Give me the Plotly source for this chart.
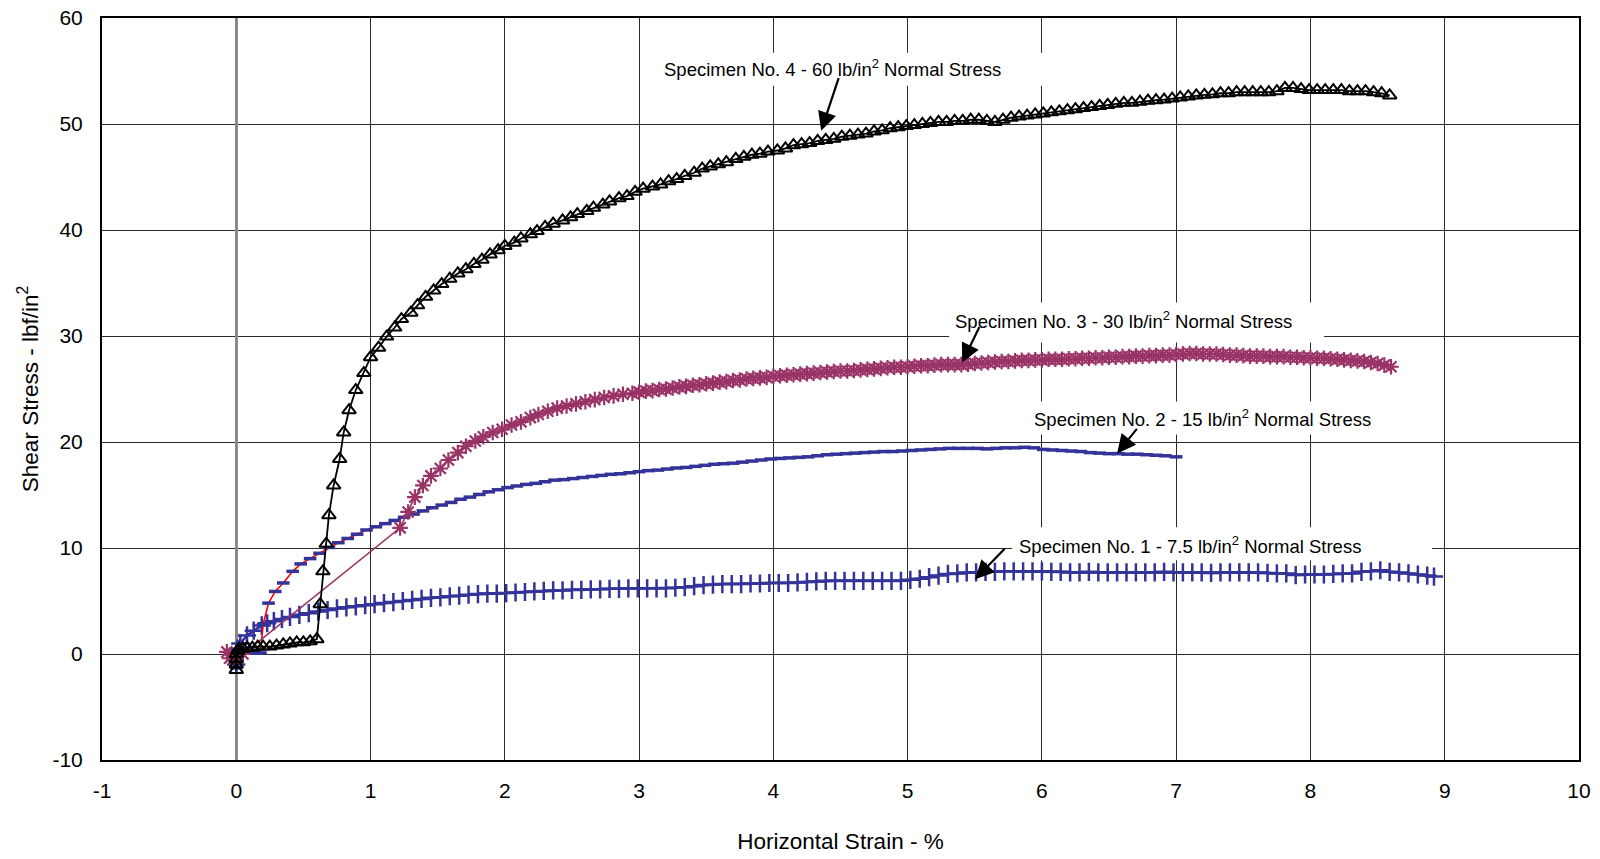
import plotly.graph_objects as go

# ---------------- data ----------------
# Specimen No. 1 - 7.5 lb/in2 normal stress
x1 = [0, 0, 0.01, 0.03, 0.08, 0.13, 0.19, 0.23, 0.28, 0.34, 0.40, 0.47, 0.54, 0.61, 0.68, 0.75, 0.82, 0.89, 0.96,
      1.03, 1.10, 1.17, 1.24, 1.31, 1.38, 1.45, 1.52, 1.59, 1.66, 1.73, 1.80, 1.87, 1.94, 2.01, 2.08, 2.15, 2.22,
      2.29, 2.36, 2.43, 2.50, 2.57, 2.64, 2.71, 2.78, 2.85, 2.92, 2.99, 3.06, 3.13, 3.20, 3.27, 3.34, 3.41, 3.48,
      3.55, 3.62, 3.69, 3.76, 3.83, 3.90, 3.97, 4.04, 4.11, 4.18, 4.25, 4.32, 4.39, 4.46, 4.53, 4.60, 4.67, 4.74,
      4.81, 4.88, 4.95, 5.02, 5.09, 5.16, 5.23, 5.30, 5.37, 5.44, 5.51, 5.58, 5.65, 5.72, 5.79, 5.86, 5.93, 6.00,
      6.07, 6.14, 6.21, 6.28, 6.35, 6.42, 6.49, 6.56, 6.63, 6.70, 6.77, 6.84, 6.91, 6.98, 7.05, 7.12, 7.19, 7.26,
      7.33, 7.40, 7.47, 7.54, 7.61, 7.68, 7.75, 7.82, 7.89, 7.96, 8.03, 8.10, 8.17, 8.24, 8.31, 8.38, 8.45, 8.52,
      8.59, 8.66, 8.73, 8.80, 8.87, 8.92]
y1 = [-1.0, 0.0, 0.5, 1.0, 1.75, 2.2, 2.7, 2.9, 3.1, 3.3, 3.5, 3.7, 3.85, 4.0, 4.15, 4.3, 4.4, 4.5, 4.6,
      4.7, 4.8, 4.9, 5.0, 5.1, 5.2, 5.3, 5.35, 5.45, 5.5, 5.6, 5.65, 5.7, 5.7, 5.75, 5.8, 5.85, 5.9,
      5.95, 6.0, 6.0, 6.05, 6.05, 6.1, 6.1, 6.15, 6.15, 6.2, 6.2, 6.2, 6.2, 6.2, 6.25, 6.3, 6.4, 6.5,
      6.55, 6.6, 6.6, 6.6, 6.65, 6.65, 6.7, 6.7, 6.7, 6.75, 6.8, 6.85, 6.9, 6.9, 6.9, 6.9, 6.9, 6.9,
      6.9, 6.9, 6.9, 7.0, 7.1, 7.25, 7.4, 7.55, 7.6, 7.7, 7.7, 7.75, 7.75, 7.8, 7.8, 7.8, 7.8, 7.8,
      7.75, 7.75, 7.7, 7.7, 7.75, 7.7, 7.7, 7.7, 7.7, 7.7, 7.7, 7.7, 7.75, 7.7, 7.7, 7.7, 7.7, 7.65,
      7.7, 7.7, 7.7, 7.7, 7.7, 7.65, 7.6, 7.6, 7.45, 7.5, 7.5, 7.5, 7.55, 7.6, 7.6, 7.75, 7.8, 7.9,
      7.75, 7.7, 7.6, 7.5, 7.4, 7.3]

# Specimen No. 2 - 15 lb/in2 normal stress
x2 = [0, 0, 0.01, 0.05, 0.10, 0.15, 0.18, 0.20, 0.24, 0.29, 0.35, 0.42, 0.48, 0.55, 0.62, 0.69, 0.76, 0.83,
      0.90, 0.97, 1.04, 1.11, 1.18, 1.25, 1.32, 1.39, 1.46, 1.53, 1.60, 1.67, 1.74, 1.81, 1.88, 1.95, 2.02,
      2.09, 2.16, 2.23, 2.30, 2.37, 2.44, 2.51, 2.58, 2.65, 2.72, 2.79, 2.86, 2.93, 3.00, 3.07, 3.14, 3.21,
      3.28, 3.35, 3.42, 3.49, 3.56, 3.63, 3.70, 3.77, 3.84, 3.91, 3.98, 4.05, 4.12, 4.19, 4.26, 4.33, 4.40,
      4.47, 4.54, 4.61, 4.68, 4.75, 4.82, 4.89, 4.96, 5.03, 5.10, 5.17, 5.24, 5.31, 5.38, 5.45, 5.52, 5.59,
      5.66, 5.73, 5.80, 5.87, 5.94, 6.01, 6.08, 6.15, 6.22, 6.29, 6.36, 6.43, 6.50, 6.57, 6.64, 6.71, 6.78,
      6.85, 6.92, 7.00]
y2 = [-1.3, -0.6, 0.0, 0.1, 0.1, 0.1, 0.1, 2.8, 4.8, 5.9, 6.7, 7.8, 8.5, 9.0, 9.5, 10.05, 10.5, 10.9,
      11.3, 11.7, 12.0, 12.3, 12.6, 12.9, 13.2, 13.5, 13.8, 14.05, 14.3, 14.6, 14.8, 15.05, 15.3, 15.5, 15.7,
      15.85, 16.0, 16.1, 16.25, 16.4, 16.45, 16.55, 16.65, 16.75, 16.85, 16.95, 17.0, 17.1, 17.2, 17.3, 17.35, 17.45,
      17.55, 17.6, 17.7, 17.8, 17.9, 17.95, 18.0, 18.1, 18.2, 18.3, 18.4, 18.45, 18.5, 18.55, 18.6, 18.7, 18.8,
      18.85, 18.9, 18.95, 19.0, 19.05, 19.1, 19.1, 19.15, 19.2, 19.25, 19.3, 19.35, 19.4, 19.4, 19.4, 19.4, 19.35,
      19.4, 19.45, 19.45, 19.5, 19.45, 19.3, 19.25, 19.2, 19.15, 19.1, 19.0, 18.95, 18.9, 18.9, 18.85, 18.85, 18.8,
      18.75, 18.7, 18.6]

# Specimen No. 3 - 30 lb/in2 normal stress
x3 = [-0.07, -0.05, 0.0, 0.05, 1.22, 1.28, 1.33, 1.39, 1.45, 1.52, 1.58, 1.65, 1.71, 1.78, 1.84, 1.91, 1.98,
      2.05, 2.12, 2.19, 2.25, 2.32, 2.39, 2.46, 2.53, 2.60, 2.67, 2.74, 2.81, 2.88,
      2.95, 3.00, 3.05, 3.10, 3.15, 3.20, 3.25, 3.30, 3.35, 3.40, 3.45, 3.50, 3.55, 3.60, 3.65, 3.70, 3.75,
      3.80, 3.85, 3.90, 3.95, 4.00, 4.05, 4.10, 4.15, 4.20, 4.25, 4.30, 4.35, 4.40, 4.45, 4.50, 4.55, 4.60,
      4.65, 4.70, 4.75, 4.80, 4.85, 4.90, 4.95, 5.00, 5.05, 5.10, 5.15, 5.20, 5.25, 5.30, 5.35, 5.40, 5.45,
      5.50, 5.55, 5.60, 5.65, 5.70, 5.75, 5.80, 5.85, 5.90, 5.95, 6.00, 6.05, 6.10, 6.15, 6.20, 6.25, 6.30,
      6.35, 6.40, 6.45, 6.50, 6.55, 6.60, 6.65, 6.70, 6.75, 6.80, 6.85, 6.90, 6.95, 7.00, 7.05, 7.10, 7.15,
      7.20, 7.25, 7.30, 7.35, 7.40, 7.45, 7.50, 7.55, 7.60, 7.65, 7.70, 7.75, 7.80, 7.85, 7.90, 7.95, 8.00,
      8.05, 8.10, 8.15, 8.20, 8.25, 8.30, 8.35, 8.40, 8.45, 8.50, 8.55, 8.60]
y3 = [0.2, -0.4, -0.2, 0.0, 11.9, 13.4, 14.8, 15.9, 16.8, 17.5, 18.3, 19.0, 19.6, 20.1, 20.5, 20.9, 21.2,
      21.6, 21.9, 22.3, 22.6, 22.9, 23.2, 23.4, 23.6, 23.8, 24.0, 24.2, 24.35, 24.5,
      24.6, 24.7, 24.8, 24.85, 24.95, 25.0, 25.1, 25.2, 25.25, 25.35, 25.4, 25.5, 25.55, 25.65, 25.7, 25.8, 25.85,
      25.95, 26.0, 26.05, 26.1, 26.2, 26.25, 26.3, 26.35, 26.4, 26.45, 26.5, 26.55, 26.6, 26.65, 26.7, 26.7, 26.75,
      26.8, 26.85, 26.9, 26.95, 27.0, 27.05, 27.05, 27.1, 27.15, 27.2, 27.2, 27.25, 27.3, 27.3, 27.3, 27.3, 27.35,
      27.4, 27.45, 27.5, 27.55, 27.6, 27.6, 27.65, 27.7, 27.7, 27.75, 27.75, 27.8, 27.8, 27.8, 27.85, 27.85, 27.9,
      27.9, 27.95, 27.95, 28.0, 28.0, 28.05, 28.05, 28.1, 28.1, 28.15, 28.15, 28.2, 28.2, 28.25, 28.3, 28.35, 28.35,
      28.3, 28.3, 28.3, 28.25, 28.2, 28.2, 28.15, 28.1, 28.1, 28.1, 28.05, 28.05, 28.05, 28.0, 28.0, 27.95, 27.95,
      27.9, 27.9, 27.85, 27.8, 27.75, 27.7, 27.65, 27.6, 27.5, 27.4, 27.25, 27.1]

# Specimen No. 4 - 60 lb/in2 normal stress
x4 = [0.0, 0.0, 0.0, 0.0, 0.01, 0.02, 0.05, 0.08, 0.12, 0.16, 0.20, 0.25, 0.30, 0.35, 0.40, 0.45, 0.50, 0.55,
      0.60, 0.625, 0.645, 0.67, 0.69, 0.725, 0.77, 0.80, 0.84, 0.89, 0.95, 1.00, 1.06, 1.12, 1.18, 1.23, 1.30,
      1.35, 1.41, 1.47, 1.53, 1.59, 1.65, 1.71, 1.77, 1.83, 1.89, 1.95, 2.00, 2.07, 2.12, 2.19, 2.24, 2.30,
      2.36, 2.43, 2.49, 2.54, 2.61, 2.66, 2.73, 2.78, 2.85, 2.91, 2.97, 3.03, 3.10, 3.16, 3.22, 3.28, 3.34,
      3.41, 3.47, 3.53, 3.59, 3.65, 3.72, 3.78, 3.84, 3.90, 3.96, 4.03, 4.09, 4.15, 4.21, 4.27, 4.33, 4.39,
      4.45, 4.51, 4.57, 4.63, 4.69, 4.75, 4.81, 4.87, 4.93, 4.99, 5.05, 5.11, 5.17, 5.23, 5.29, 5.35, 5.41,
      5.47, 5.53, 5.59, 5.65, 5.71, 5.77, 5.83, 5.89, 5.95, 6.01, 6.07, 6.13, 6.19, 6.25, 6.31, 6.37, 6.43,
      6.49, 6.55, 6.61, 6.67, 6.73, 6.79, 6.85, 6.91, 6.97, 7.03, 7.09, 7.15, 7.21, 7.27, 7.33, 7.39, 7.45,
      7.51, 7.57, 7.63, 7.69, 7.75, 7.81, 7.87, 7.93, 7.99, 8.05, 8.11, 8.17, 8.23, 8.29, 8.35, 8.41, 8.47,
      8.53, 8.59]
y4 = [-1.5, -1.0, -0.5, 0.0, 0.3, 0.5, 0.5, 0.6, 0.6, 0.7, 0.7, 0.7, 0.8, 0.9, 1.0, 1.1, 1.1, 1.2,
      1.4, 4.7, 7.8, 10.4, 13.1, 15.9, 18.4, 20.9, 23.0, 24.9, 26.5, 28.0, 28.9, 29.95, 30.8, 31.6, 32.2,
      32.9, 33.7, 34.3, 34.9, 35.4, 35.9, 36.3, 36.8, 37.2, 37.7, 38.1, 38.5, 38.8, 39.2, 39.6, 39.9, 40.3,
      40.6, 40.9, 41.2, 41.5, 41.8, 42.1, 42.4, 42.7, 43.0, 43.2, 43.6, 43.9, 44.1, 44.3, 44.6, 44.8, 45.1,
      45.4, 45.8, 46.0, 46.2, 46.4, 46.7, 46.9, 47.1, 47.2, 47.4, 47.5, 47.7, 48.0, 48.1, 48.2, 48.4, 48.5,
      48.6, 48.8, 48.9, 49.0, 49.1, 49.3, 49.4, 49.6, 49.7, 49.8, 49.9, 50.0, 50.1, 50.2, 50.2, 50.3, 50.3,
      50.4, 50.4, 50.3, 50.2, 50.4, 50.6, 50.7, 50.8, 50.9, 51.0, 51.1, 51.2, 51.3, 51.4, 51.5, 51.6, 51.7,
      51.8, 51.9, 52.0, 52.0, 52.1, 52.2, 52.25, 52.3, 52.4, 52.5, 52.6, 52.7, 52.75, 52.8, 52.9, 52.9, 53.0,
      53.0, 53.0, 53.0, 53.0, 53.1, 53.4, 53.4, 53.3, 53.2, 53.2, 53.2, 53.2, 53.2, 53.1, 53.1, 53.1, 53.0,
      52.9, 52.7]

labels = [
    "Specimen No. 4 - 60 lb/in<sup>2</sup> Normal Stress",
    "Specimen No. 3 - 30 lb/in<sup>2</sup> Normal Stress",
    "Specimen No. 2 - 15 lb/in<sup>2</sup> Normal Stress",
    "Specimen No. 1 - 7.5 lb/in<sup>2</sup> Normal Stress",
]
x_title = "Horizontal Strain - %"
y_title = "Shear Stress - lbf/in<sup>2</sup>"
x_tickvals = [-1, 0, 1, 2, 3, 4, 5, 6, 7, 8, 9, 10]
x_ticktext = ["-1", "0", "1", "2", "3", "4", "5", "6", "7", "8", "9", "10"]
y_tickvals = [-10, 0, 10, 20, 30, 40, 50, 60]
y_ticktext = ["-10", "0", "10", "20", "30", "40", "50", "60"]

BLUE = "#333399"
MAG = "#993366"
FONT = "Liberation Sans, Arial, sans-serif"

fig = go.Figure()

# Specimen 1
fig.add_trace(go.Scatter(
    x=x1, y=y1, mode="lines+markers",
    line=dict(color=BLUE, width=2.6),
    marker=dict(symbol="cross-thin-open", size=13, color=BLUE, line=dict(color=BLUE, width=2.5)),
))
# Specimen 2 (red connecting line, blue dash markers)
fig.add_trace(go.Scatter(
    x=x2, y=y2, mode="lines+markers",
    line=dict(color="#FF0000", width=1.6),
    marker=dict(symbol="line-ew-open", size=9, color=BLUE, line=dict(color=BLUE, width=3.5)),
))
# Specimen 3
fig.add_trace(go.Scatter(
    x=x3, y=y3, mode="lines+markers",
    line=dict(color=MAG, width=1.6),
    marker=dict(symbol="asterisk-open", size=13, color=MAG, line=dict(color=MAG, width=2.2)),
))
# Specimen 4
fig.add_trace(go.Scatter(
    x=x4, y=y4, mode="lines+markers",
    line=dict(color="black", width=1.8),
    marker=dict(symbol="triangle-up-open", size=12, color="black", line=dict(color="black", width=2)),
))

# white label boxes (between gridlines and traces)
def px2x(p):
    return (p - 236.0) / 134.3

def px2y(p):
    return (653.8 - p) / 10.61

boxes = [(652, 52, 1046, 85), (949, 302, 1324, 342), (1028, 401, 1405, 434), (1012, 527, 1432, 560)]
for (l, t, r, b) in boxes:
    fig.add_shape(type="rect", xref="x", yref="y", x0=px2x(l), x1=px2x(r), y0=px2y(b), y1=px2y(t),
                  fillcolor="white", line=dict(width=0), layer="between")

# label texts
text_pos = [(663, 67), (954, 319.3), (1033, 417.7), (1017.5, 545)]
for lab, (tx, ty) in zip(labels, text_pos):
    fig.add_annotation(x=px2x(tx), y=px2y(ty), xref="x", yref="y", text=lab, showarrow=False,
                       xanchor="left", yanchor="middle", borderpad=0,
                       font=dict(family=FONT, size=18.5, color="black"))

# arrows (head at data point, tail offset in pixels)
arrows = [((821, 130), (839, 76)), ((962, 362), (980, 325)), ((1117, 453), (1138, 427)), ((975, 579), (1006, 547))]
for (hx, hy), (tx, ty) in arrows:
    fig.add_annotation(x=px2x(hx), y=px2y(hy), xref="x", yref="y", text="", showarrow=True,
                       ax=tx - hx, ay=ty - hy, arrowhead=2, arrowsize=1.7, arrowwidth=2.2,
                       arrowcolor="black", standoff=0, startstandoff=0)

fig.update_layout(
    width=1600, height=859,
    margin=dict(l=102, r=21, t=18, b=99, autoexpand=False),
    plot_bgcolor="white", paper_bgcolor="white",
    showlegend=False,
    font=dict(family=FONT, color="black"),
)
fig.update_xaxes(
    range=[-1, 10], tickmode="array", tickvals=x_tickvals, ticktext=x_ticktext,
    showgrid=True, gridcolor="#2a2a2a", gridwidth=1,
    zeroline=True, zerolinecolor="#8a8a8a", zerolinewidth=2.5,
    showline=True, linecolor="black", linewidth=2, mirror=True, ticks="", automargin=False,
    tickfont=dict(family=FONT, size=21, color="black"), ticklabelstandoff=11,
    title=dict(text=x_title, font=dict(family=FONT, size=22.5, color="black"), standoff=32),
)
fig.update_yaxes(
    range=[-10, 60], tickmode="array", tickvals=y_tickvals, ticktext=y_ticktext,
    showgrid=True, gridcolor="#2a2a2a", gridwidth=1,
    zeroline=False,
    showline=True, linecolor="black", linewidth=2, mirror=True, ticks="", automargin=False,
    tickfont=dict(family=FONT, size=21, color="black"), ticklabelstandoff=13,
    title=dict(text=y_title, font=dict(family=FONT, size=22.5, color="black"), standoff=8),
)

fig.write_html("out.html")
